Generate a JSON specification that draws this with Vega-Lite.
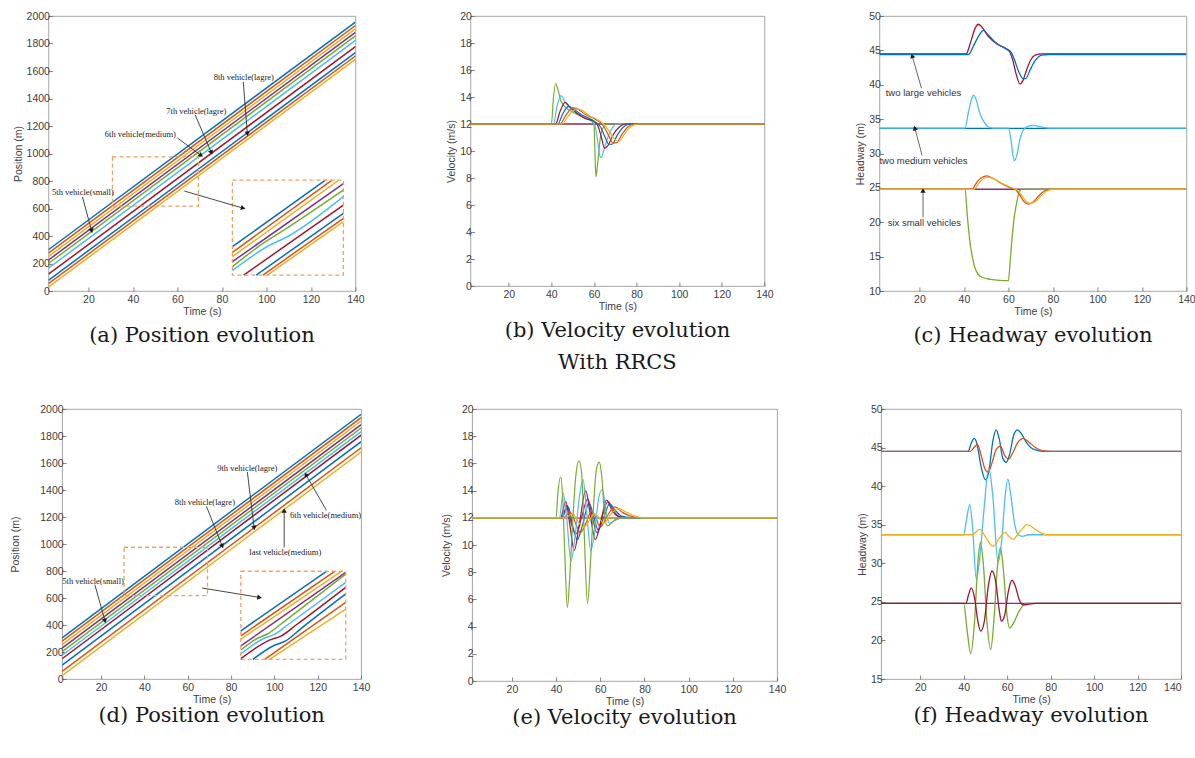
{
"$schema":"https://vega.github.io/schema/vega-lite/v6.json",
"background":"white",
"padding":{"left":10,"top":10,"right":0,"bottom":0},
"autosize":{"type":"pad"},
"datasets":{
"aL":[{"v":1,"t":2,"y":300},{"v":1,"t":140,"y":1956},{"v":2,"t":2,"y":275},{"v":2,"t":140,"y":1931},{"v":3,"t":2,"y":250},{"v":3,"t":140,"y":1906},{"v":4,"t":2,"y":225},{"v":4,"t":140,"y":1881},{"v":5,"t":2,"y":200},{"v":5,"t":140,"y":1856},{"v":6,"t":2,"y":166},{"v":6,"t":140,"y":1822},{"v":7,"t":2,"y":122},{"v":7,"t":140,"y":1778},{"v":8,"t":2,"y":78},{"v":8,"t":140,"y":1734},{"v":9,"t":2,"y":53},{"v":9,"t":140,"y":1709},{"v":10,"t":2,"y":28},{"v":10,"t":140,"y":1684}],
"aI":[{"v":1,"t":84.7,"y":322},{"v":1,"t":126.5,"y":807},{"v":2,"t":84.7,"y":281},{"v":2,"t":129.5,"y":807},{"v":3,"t":84.7,"y":250},{"v":3,"t":132.5,"y":807},{"v":4,"t":84.7,"y":213},{"v":4,"t":134.6,"y":781},{"v":5,"t":84.7,"y":177},{"v":5,"t":97,"y":330},{"v":5,"t":108,"y":445},{"v":5,"t":134.6,"y":735},{"v":6,"t":84.7,"y":148},{"v":6,"t":100,"y":320},{"v":6,"t":110,"y":400},{"v":6,"t":134.6,"y":686},{"v":7,"t":89.8,"y":116},{"v":7,"t":134.6,"y":625},{"v":8,"t":95.4,"y":116},{"v":8,"t":134.6,"y":565},{"v":9,"t":98.4,"y":116},{"v":9,"t":134.6,"y":529},{"v":10,"t":100.4,"y":116},{"v":10,"t":134.6,"y":504}],
"aR":[{"t":30.8,"y":618,"te":69.4,"ye":975},{"t":84.7,"y":116,"te":134.6,"ye":807}],
"aT":[{"t":17.5,"y":720,"txt":"5th vehicle(small)"},{"t":43.3,"y":1142,"txt":"6th vehicle(medium)"},{"t":68.5,"y":1309,"txt":"7th vehicle(lagre)"},{"t":89.8,"y":1556,"txt":"8th vehicle(lagre)"}],
"aA":[{"id":1,"t":21.3,"y":444,"t0":17.3,"y0":684},{"id":2,"t":70.3,"y":989,"t0":60,"y0":1113},{"id":3,"t":75.1,"y":1011,"t0":68,"y0":1280},{"id":4,"t":91.4,"y":1149,"t0":89.6,"y0":1520},{"id":5,"t":89.2,"y":604,"t0":63.1,"y0":727}],
"dL":[{"v":1,"t":2,"y":305},{"v":1,"t":140,"y":1961},{"v":2,"t":2,"y":280},{"v":2,"t":140,"y":1936},{"v":3,"t":2,"y":255},{"v":3,"t":140,"y":1911},{"v":4,"t":2,"y":228},{"v":4,"t":140,"y":1884},{"v":5,"t":2,"y":203},{"v":5,"t":140,"y":1859},{"v":6,"t":2,"y":176},{"v":6,"t":140,"y":1832},{"v":7,"t":2,"y":150},{"v":7,"t":140,"y":1806},{"v":8,"t":2,"y":102},{"v":8,"t":140,"y":1758},{"v":9,"t":2,"y":57},{"v":9,"t":140,"y":1713},{"v":10,"t":2,"y":25},{"v":10,"t":140,"y":1681}],
"dI":[{"v":1,"t":84.5,"y":357},{"v":1,"t":124,"y":798},{"v":2,"t":84.5,"y":320},{"v":2,"t":127.8,"y":798},{"v":3,"t":84.5,"y":295},{"v":3,"t":130.9,"y":798},{"v":4,"t":84.5,"y":245},{"v":4,"t":132.9,"y":790},{"v":5,"t":84.5,"y":215},{"v":5,"t":92,"y":300},{"v":5,"t":97,"y":335},{"v":5,"t":104,"y":420},{"v":5,"t":132.9,"y":778},{"v":6,"t":84.5,"y":185},{"v":6,"t":95,"y":300},{"v":6,"t":100,"y":330},{"v":6,"t":106,"y":400},{"v":6,"t":132.9,"y":716},{"v":7,"t":84.5,"y":151},{"v":7,"t":98,"y":290},{"v":7,"t":103,"y":318},{"v":7,"t":110,"y":400},{"v":7,"t":132.9,"y":679},{"v":8,"t":90.1,"y":146},{"v":8,"t":100,"y":250},{"v":8,"t":105,"y":280},{"v":8,"t":112,"y":370},{"v":8,"t":132.9,"y":630},{"v":9,"t":95.5,"y":146},{"v":9,"t":132.9,"y":567},{"v":10,"t":97.8,"y":146},{"v":10,"t":132.9,"y":518}],
"dR":[{"t":30.6,"y":617,"te":69.1,"ye":976},{"t":84.5,"y":146,"te":132.9,"ye":798}],
"dT":[{"t":16.3,"y":729,"txt":"5th vehicle(small)"},{"t":67.9,"y":1311,"txt":"8th vehicle(lagre)"},{"t":87.5,"y":1566,"txt":"9th vehicle(lagre)"},{"t":123.6,"y":1212,"txt":"6th vehicle(medium)"},{"t":105,"y":939,"txt":"last vehicle(medium)"}],
"dA":[{"id":1,"t":21.7,"y":436,"t0":17.1,"y0":699},{"id":2,"t":75.8,"y":989,"t0":68.6,"y0":1279},{"id":3,"t":90.6,"y":1125,"t0":87.5,"y0":1534},{"id":4,"t":114.7,"y":1509,"t0":124,"y0":1249},{"id":5,"t":104.5,"y":1242,"t0":104.5,"y0":976},{"id":6,"t":92.8,"y":605,"t0":66.6,"y0":674}],
"bL":[{"v":1,"t":2,"y":12},{"v":1,"t":140,"y":12},{"v":2,"t":2,"y":12},{"v":2,"t":140,"y":12},{"v":3,"t":2,"y":12},{"v":3,"t":140,"y":12},{"v":4,"t":2,"y":12},{"v":4,"t":140,"y":12},
{"v":5,"t":2,"y":12},{"v":5,"t":40,"y":12},{"v":5,"t":41,"y":14},{"v":5,"t":42,"y":15},{"v":5,"t":43,"y":14.6},{"v":5,"t":44.5,"y":13.7},{"v":5,"t":47,"y":13.2},{"v":5,"t":51,"y":12.8},{"v":5,"t":55,"y":12.5},{"v":5,"t":59,"y":12.2},{"v":5,"t":60,"y":12},{"v":5,"t":60.4,"y":10.2},{"v":5,"t":60.9,"y":8.1},{"v":5,"t":61.8,"y":9.2},{"v":5,"t":63,"y":11},{"v":5,"t":64.5,"y":11.8},{"v":5,"t":66,"y":12},{"v":5,"t":140,"y":12},
{"v":6,"t":2,"y":12},{"v":6,"t":41,"y":12},{"v":6,"t":42.5,"y":13.2},{"v":6,"t":44.5,"y":14.1},{"v":6,"t":46.5,"y":13.6},{"v":6,"t":50,"y":13},{"v":6,"t":54,"y":12.6},{"v":6,"t":58,"y":12.3},{"v":6,"t":60,"y":12.1},{"v":6,"t":61.5,"y":11},{"v":6,"t":62.5,"y":9.8},{"v":6,"t":63.4,"y":9.5},{"v":6,"t":64.5,"y":10},{"v":6,"t":66.5,"y":11},{"v":6,"t":69,"y":11.8},{"v":6,"t":71,"y":12},{"v":6,"t":140,"y":12},
{"v":7,"t":2,"y":12},{"v":7,"t":42,"y":12},{"v":7,"t":44,"y":12.9},{"v":7,"t":46.5,"y":13.6},{"v":7,"t":48.5,"y":13.3},{"v":7,"t":52,"y":12.8},{"v":7,"t":56,"y":12.4},{"v":7,"t":60,"y":12.2},{"v":7,"t":62,"y":11.8},{"v":7,"t":63.5,"y":11},{"v":7,"t":65,"y":10.2},{"v":7,"t":66.5,"y":10.4},{"v":7,"t":69,"y":11.2},{"v":7,"t":72,"y":11.8},{"v":7,"t":75,"y":12},{"v":7,"t":140,"y":12},
{"v":8,"t":2,"y":12},{"v":8,"t":43,"y":12},{"v":8,"t":45.5,"y":12.8},{"v":8,"t":48,"y":13.3},{"v":8,"t":50.5,"y":13.1},{"v":8,"t":54,"y":12.7},{"v":8,"t":58,"y":12.4},{"v":8,"t":61,"y":12.1},{"v":8,"t":63,"y":11.8},{"v":8,"t":65,"y":11.1},{"v":8,"t":67,"y":10.5},{"v":8,"t":68.5,"y":10.5},{"v":8,"t":71,"y":11.2},{"v":8,"t":74,"y":11.8},{"v":8,"t":77,"y":12},{"v":8,"t":140,"y":12},
{"v":9,"t":2,"y":12},{"v":9,"t":44,"y":12},{"v":9,"t":47,"y":12.7},{"v":9,"t":50,"y":13.2},{"v":9,"t":52.5,"y":13.1},{"v":9,"t":56,"y":12.7},{"v":9,"t":60,"y":12.4},{"v":9,"t":63,"y":12.1},{"v":9,"t":65,"y":11.7},{"v":9,"t":67,"y":11.1},{"v":9,"t":69,"y":10.6},{"v":9,"t":70.5,"y":10.6},{"v":9,"t":73,"y":11.2},{"v":9,"t":76,"y":11.8},{"v":9,"t":79,"y":12},{"v":9,"t":140,"y":12},
{"v":10,"t":2,"y":12},{"v":10,"t":45,"y":12},{"v":10,"t":48,"y":12.6},{"v":10,"t":52,"y":13.1},{"v":10,"t":54.5,"y":13},{"v":10,"t":58,"y":12.6},{"v":10,"t":62,"y":12.3},{"v":10,"t":64.5,"y":12},{"v":10,"t":67,"y":11.5},{"v":10,"t":69.5,"y":10.9},{"v":10,"t":71.5,"y":10.7},{"v":10,"t":74,"y":11.2},{"v":10,"t":77,"y":11.8},{"v":10,"t":81,"y":12},{"v":10,"t":140,"y":12}],
"cL":[{"v":7,"t":2,"y":44.5},{"v":7,"t":41,"y":44.5},{"v":7,"t":43,"y":46.2},{"v":7,"t":45,"y":48.2},{"v":7,"t":46.5,"y":48.8},{"v":7,"t":48,"y":48.4},{"v":7,"t":51,"y":47},{"v":7,"t":55,"y":45.9},{"v":7,"t":59,"y":45.2},{"v":7,"t":60.5,"y":44.8},{"v":7,"t":62,"y":43.5},{"v":7,"t":63.5,"y":41.5},{"v":7,"t":65.2,"y":40.1},{"v":7,"t":66.5,"y":40.6},{"v":7,"t":68,"y":42},{"v":7,"t":70,"y":43.6},{"v":7,"t":72,"y":44.3},{"v":7,"t":75,"y":44.5},{"v":7,"t":140,"y":44.5},
{"v":8,"t":2,"y":44.4},{"v":8,"t":42,"y":44.4},{"v":8,"t":44.5,"y":45.8},{"v":8,"t":47,"y":47.3},{"v":8,"t":48.7,"y":47.9},{"v":8,"t":50.5,"y":47.4},{"v":8,"t":54,"y":46.2},{"v":8,"t":58,"y":45.4},{"v":8,"t":61,"y":44.8},{"v":8,"t":62.5,"y":43.8},{"v":8,"t":64.5,"y":42},{"v":8,"t":66.5,"y":40.9},{"v":8,"t":67.8,"y":40.9},{"v":8,"t":69.5,"y":42},{"v":8,"t":72,"y":43.5},{"v":8,"t":75,"y":44.3},{"v":8,"t":78,"y":44.4},{"v":8,"t":140,"y":44.4},
{"v":1,"t":2,"y":33.65},{"v":1,"t":140,"y":33.65},
{"v":6,"t":2,"y":33.7},{"v":6,"t":40.5,"y":33.7},{"v":6,"t":42,"y":36},{"v":6,"t":43.5,"y":38},{"v":6,"t":44.3,"y":38.5},{"v":6,"t":45.5,"y":37.8},{"v":6,"t":47,"y":36},{"v":6,"t":49,"y":34.6},{"v":6,"t":51,"y":33.9},{"v":6,"t":53,"y":33.7},{"v":6,"t":60,"y":33.7},{"v":6,"t":61,"y":32.3},{"v":6,"t":62,"y":29.8},{"v":6,"t":62.7,"y":28.95},{"v":6,"t":63.8,"y":29.8},{"v":6,"t":65,"y":31.8},{"v":6,"t":66.5,"y":33.3},{"v":6,"t":68.5,"y":33.9},{"v":6,"t":71.5,"y":34.1},{"v":6,"t":74,"y":33.9},{"v":6,"t":78,"y":33.7},{"v":6,"t":140,"y":33.7},
{"v":4,"t":2,"y":24.8},{"v":4,"t":140,"y":24.8},
{"v":5,"t":2,"y":24.8},{"v":5,"t":40.5,"y":24.8},{"v":5,"t":41.5,"y":21},{"v":5,"t":42.7,"y":17.1},{"v":5,"t":44,"y":14.6},{"v":5,"t":45,"y":13.3},{"v":5,"t":46.5,"y":12.4},{"v":5,"t":48,"y":12},{"v":5,"t":52,"y":11.7},{"v":5,"t":56,"y":11.55},{"v":5,"t":60,"y":11.5},{"v":5,"t":60.7,"y":14},{"v":5,"t":61.5,"y":17.2},{"v":5,"t":62.5,"y":20.5},{"v":5,"t":63.8,"y":23},{"v":5,"t":65,"y":24.5},{"v":5,"t":66,"y":24.8},{"v":5,"t":140,"y":24.8},
{"v":2,"t":2,"y":24.8},{"v":2,"t":43.5,"y":24.8},{"v":2,"t":46,"y":25.9},{"v":2,"t":48,"y":26.5},{"v":2,"t":50.2,"y":26.75},{"v":2,"t":53,"y":26.4},{"v":2,"t":57,"y":25.6},{"v":2,"t":61,"y":25},{"v":2,"t":63,"y":24.8},{"v":2,"t":65,"y":24},{"v":2,"t":67,"y":23},{"v":2,"t":69,"y":22.65},{"v":2,"t":71,"y":22.9},{"v":2,"t":73.5,"y":23.8},{"v":2,"t":76,"y":24.5},{"v":2,"t":79,"y":24.8},{"v":2,"t":140,"y":24.8},
{"v":3,"t":2,"y":24.8},{"v":3,"t":44.5,"y":24.8},{"v":3,"t":47,"y":25.8},{"v":3,"t":49,"y":26.4},{"v":3,"t":51,"y":26.55},{"v":3,"t":54,"y":26.2},{"v":3,"t":58,"y":25.5},{"v":3,"t":62,"y":24.95},{"v":3,"t":64,"y":24.7},{"v":3,"t":66,"y":23.9},{"v":3,"t":68,"y":23},{"v":3,"t":70,"y":22.75},{"v":3,"t":72,"y":23},{"v":3,"t":74.5,"y":23.8},{"v":3,"t":77,"y":24.5},{"v":3,"t":80,"y":24.8},{"v":3,"t":140,"y":24.8}],
"cT":[{"t":21.8,"y":38.8,"txt":"two large vehicles"},{"t":21.8,"y":28.9,"txt":"two medium vehicles"},{"t":22.2,"y":19.85,"txt":"six small vehicles"}],
"cA":[{"id":1,"t":16.8,"y":44.1,"t0":20.9,"y0":39.5},{"id":2,"t":18.0,"y":33.6,"t0":21.2,"y0":29.7},{"id":3,"t":21.6,"y":24.5,"t0":21.6,"y0":20.7}],
"eL":[{"v":1,"t":2,"y":12},{"v":1,"t":140,"y":12},{"v":2,"t":2,"y":12},{"v":2,"t":140,"y":12},{"v":3,"t":2,"y":12},{"v":3,"t":140,"y":12},
{"v":4,"t":2,"y":12},{"v":4,"t":42.5,"y":12},{"v":4,"t":45,"y":12.9},{"v":4,"t":47,"y":11.5},{"v":4,"t":49,"y":10.8},{"v":4,"t":51.5,"y":12},{"v":4,"t":54.3,"y":13.4},{"v":4,"t":56.5,"y":12},{"v":4,"t":58.5,"y":10.9},{"v":4,"t":61,"y":12.2},{"v":4,"t":63.5,"y":13.2},{"v":4,"t":66.5,"y":12.4},{"v":4,"t":70,"y":12},{"v":4,"t":140,"y":12},
{"v":8,"t":2,"y":12},{"v":8,"t":42.5,"y":12},{"v":8,"t":45.5,"y":12.8},{"v":8,"t":47.5,"y":11.4},{"v":8,"t":49.6,"y":10.4},{"v":8,"t":52,"y":11.5},{"v":8,"t":54.9,"y":13.1},{"v":8,"t":57,"y":12.1},{"v":8,"t":59.1,"y":11.1},{"v":8,"t":61.5,"y":12},{"v":8,"t":64.2,"y":13},{"v":8,"t":67,"y":12.5},{"v":8,"t":70,"y":12.1},{"v":8,"t":75,"y":12},{"v":8,"t":140,"y":12},
{"v":7,"t":2,"y":12},{"v":7,"t":42,"y":12},{"v":7,"t":44.4,"y":13.2},{"v":7,"t":46.2,"y":11.5},{"v":7,"t":48.2,"y":9.6},{"v":7,"t":50.5,"y":11.5},{"v":7,"t":53.4,"y":14},{"v":7,"t":55.5,"y":12.2},{"v":7,"t":57.7,"y":10.4},{"v":7,"t":60,"y":11.5},{"v":7,"t":62.8,"y":13.3},{"v":7,"t":65.5,"y":12.5},{"v":7,"t":68,"y":12.1},{"v":7,"t":72,"y":12},{"v":7,"t":140,"y":12},
{"v":9,"t":2,"y":12},{"v":9,"t":43,"y":12},{"v":9,"t":46.5,"y":12.4},{"v":9,"t":48.8,"y":11.6},{"v":9,"t":51,"y":10.9},{"v":9,"t":53.5,"y":11.6},{"v":9,"t":56,"y":12.5},{"v":9,"t":58,"y":12},{"v":9,"t":60,"y":11.3},{"v":9,"t":63,"y":12.1},{"v":9,"t":66.5,"y":12.8},{"v":9,"t":70,"y":12.4},{"v":9,"t":74,"y":12.1},{"v":9,"t":78,"y":12},{"v":9,"t":140,"y":12},
{"v":6,"t":2,"y":12},{"v":6,"t":41.5,"y":12},{"v":6,"t":43.2,"y":13.8},{"v":6,"t":44.8,"y":12},{"v":6,"t":46.7,"y":8.8},{"v":6,"t":48.5,"y":10.5},{"v":6,"t":50.5,"y":13.5},{"v":6,"t":52.2,"y":14.8},{"v":6,"t":53.8,"y":12.5},{"v":6,"t":55.7,"y":9.6},{"v":6,"t":57.5,"y":11},{"v":6,"t":59.3,"y":13.5},{"v":6,"t":61,"y":14.1},{"v":6,"t":62.5,"y":12.5},{"v":6,"t":64.2,"y":11.6},{"v":6,"t":66.5,"y":11.8},{"v":6,"t":70,"y":12},{"v":6,"t":140,"y":12},
{"v":5,"t":2,"y":12},{"v":5,"t":40,"y":12},{"v":5,"t":40.8,"y":13.8},{"v":5,"t":42.1,"y":15},{"v":5,"t":43,"y":13.5},{"v":5,"t":44,"y":9},{"v":5,"t":45.1,"y":5.4},{"v":5,"t":46.3,"y":8},{"v":5,"t":47.8,"y":12.5},{"v":5,"t":49,"y":15.2},{"v":5,"t":50.4,"y":16.2},{"v":5,"t":51.6,"y":15.2},{"v":5,"t":52.7,"y":11},{"v":5,"t":54.2,"y":5.7},{"v":5,"t":55.5,"y":8.5},{"v":5,"t":57,"y":13},{"v":5,"t":58.2,"y":15.5},{"v":5,"t":59.5,"y":16.1},{"v":5,"t":60.7,"y":15},{"v":5,"t":61.8,"y":12.5},{"v":5,"t":63.2,"y":11.4},{"v":5,"t":65,"y":11.6},{"v":5,"t":67,"y":11.9},{"v":5,"t":69,"y":12},{"v":5,"t":140,"y":12},
{"v":10,"t":2,"y":12},{"v":10,"t":44,"y":12},{"v":10,"t":47.5,"y":12.3},{"v":10,"t":50,"y":11.7},{"v":10,"t":52.5,"y":11.3},{"v":10,"t":55,"y":11.8},{"v":10,"t":57.5,"y":12.3},{"v":10,"t":59.5,"y":12},{"v":10,"t":61.5,"y":11.6},{"v":10,"t":64.5,"y":12.2},{"v":10,"t":68,"y":12.7},{"v":10,"t":72,"y":12.4},{"v":10,"t":76,"y":12.1},{"v":10,"t":80,"y":12},{"v":10,"t":140,"y":12}],
"fL":[{"v":1,"t":2,"y":44.5},{"v":1,"t":42,"y":44.5},{"v":1,"t":43.5,"y":45.6},{"v":1,"t":44.8,"y":46.2},{"v":1,"t":46,"y":45.6},{"v":1,"t":48,"y":42.5},{"v":1,"t":50,"y":40.8},{"v":1,"t":51.5,"y":41.8},{"v":1,"t":53.5,"y":46},{"v":1,"t":54.9,"y":47.3},{"v":1,"t":56.3,"y":46.2},{"v":1,"t":58,"y":43.6},{"v":1,"t":59.6,"y":43.1},{"v":1,"t":61,"y":44},{"v":1,"t":63,"y":46.6},{"v":1,"t":64.7,"y":47.3},{"v":1,"t":66.5,"y":46.8},{"v":1,"t":69,"y":45.6},{"v":1,"t":72,"y":44.8},{"v":1,"t":77,"y":44.5},{"v":1,"t":140,"y":44.5},
{"v":2,"t":2,"y":44.5},{"v":2,"t":43,"y":44.5},{"v":2,"t":45,"y":45.1},{"v":2,"t":46.3,"y":45.4},{"v":2,"t":48,"y":44},{"v":2,"t":49.8,"y":42.2},{"v":2,"t":51.2,"y":41.8},{"v":2,"t":53,"y":43},{"v":2,"t":55,"y":44.8},{"v":2,"t":56.9,"y":45.2},{"v":2,"t":58.8,"y":44},{"v":2,"t":60.7,"y":43.5},{"v":2,"t":62.5,"y":44.3},{"v":2,"t":65,"y":45.7},{"v":2,"t":67.3,"y":46.2},{"v":2,"t":70,"y":45.7},{"v":2,"t":73,"y":45},{"v":2,"t":76,"y":44.6},{"v":2,"t":80,"y":44.5},{"v":2,"t":140,"y":44.5},
{"v":6,"t":2,"y":33.7},{"v":6,"t":40,"y":33.7},{"v":6,"t":41.2,"y":35.5},{"v":6,"t":42.8,"y":37.6},{"v":6,"t":44,"y":35},{"v":6,"t":45.8,"y":27.9},{"v":6,"t":47.5,"y":31},{"v":6,"t":49.5,"y":37.5},{"v":6,"t":51.5,"y":42.4},{"v":6,"t":53.3,"y":39},{"v":6,"t":55.8,"y":30.1},{"v":6,"t":57.5,"y":33},{"v":6,"t":59,"y":38.5},{"v":6,"t":60.3,"y":40.9},{"v":6,"t":61.8,"y":38.5},{"v":6,"t":63.5,"y":35},{"v":6,"t":65,"y":33.7},{"v":6,"t":67,"y":33.5},{"v":6,"t":70,"y":33.7},{"v":6,"t":140,"y":33.7},
{"v":3,"t":2,"y":33.7},{"v":3,"t":44,"y":33.7},{"v":3,"t":47.4,"y":34.4},{"v":3,"t":50.5,"y":33.2},{"v":3,"t":53.5,"y":32.2},{"v":3,"t":56.5,"y":33.3},{"v":3,"t":58.9,"y":34},{"v":3,"t":60.8,"y":33.5},{"v":3,"t":62.7,"y":33.1},{"v":3,"t":65.5,"y":34},{"v":3,"t":69.3,"y":35},{"v":3,"t":72.5,"y":34.5},{"v":3,"t":75,"y":34},{"v":3,"t":78,"y":33.7},{"v":3,"t":140,"y":33.7},
{"v":4,"t":2,"y":24.8},{"v":4,"t":140,"y":24.8},
{"v":5,"t":2,"y":24.8},{"v":5,"t":40,"y":24.8},{"v":5,"t":41.5,"y":21.5},{"v":5,"t":43.2,"y":18.3},{"v":5,"t":45,"y":22.5},{"v":5,"t":46.5,"y":30},{"v":5,"t":47.7,"y":32.7},{"v":5,"t":49,"y":30},{"v":5,"t":50.8,"y":22},{"v":5,"t":52.4,"y":18.8},{"v":5,"t":54,"y":23},{"v":5,"t":55.5,"y":29.5},{"v":5,"t":56.9,"y":32},{"v":5,"t":58.3,"y":29},{"v":5,"t":60,"y":23},{"v":5,"t":61.2,"y":21.6},{"v":5,"t":63,"y":22.3},{"v":5,"t":65.5,"y":23.8},{"v":5,"t":68.8,"y":24.8},{"v":5,"t":140,"y":24.8},
{"v":7,"t":2,"y":24.8},{"v":7,"t":41,"y":24.8},{"v":7,"t":42.3,"y":26},{"v":7,"t":43.5,"y":26.8},{"v":7,"t":45,"y":25.5},{"v":7,"t":46.5,"y":22.5},{"v":7,"t":47.8,"y":21.2},{"v":7,"t":49.5,"y":22.5},{"v":7,"t":51.3,"y":27},{"v":7,"t":53,"y":29},{"v":7,"t":54.8,"y":27.5},{"v":7,"t":56.3,"y":24},{"v":7,"t":57.3,"y":22.5},{"v":7,"t":58.8,"y":23.2},{"v":7,"t":60.5,"y":26.3},{"v":7,"t":62.2,"y":27.8},{"v":7,"t":63.8,"y":27},{"v":7,"t":65.5,"y":25.3},{"v":7,"t":67.3,"y":24.6},{"v":7,"t":70,"y":24.7},{"v":7,"t":73,"y":24.8},{"v":7,"t":140,"y":24.8}]
},
"vconcat":[
{"hconcat":[
{"width":307,"height":275,"title":{"text":"(a) Position evolution"},
"encoding":{"x":{"field":"t","type":"quantitative","title":"Time (s)","scale":{"domain":[2,140],"nice":false,"zero":false},"axis":{"values":[20,40,60,80,100,120,140]}},
"y":{"field":"y","type":"quantitative","title":"Position (m)","scale":{"domain":[0,2000],"nice":false},"axis":{"values":[0,200,400,600,800,1000,1200,1400,1600,1800,2000],"format":"d"}}},
"layer":[
{"data":{"name":"aL"},"mark":{"type":"line","strokeWidth":1.5,"clip":true},"encoding":{"color":{"field":"v","type":"nominal","legend":null,"scale":{"domain":[1,2,3,4,5,6,7,8,9,10],"range":["#0072BD","#D95319","#EDB120","#7E2F8E","#77AC30","#4DBEEE","#A2142F","#0072BD","#D95319","#EDB120"]}}}},
{"data":{"name":"aI"},"mark":{"type":"line","strokeWidth":1.5,"interpolate":"monotone","clip":true},"encoding":{"color":{"field":"v","type":"nominal","legend":null,"scale":{"domain":[1,2,3,4,5,6,7,8,9,10],"range":["#0072BD","#D95319","#EDB120","#7E2F8E","#77AC30","#4DBEEE","#A2142F","#0072BD","#D95319","#EDB120"]}}}},
{"data":{"name":"aR"},"mark":{"type":"rect","fillOpacity":0,"stroke":"#F0A060","strokeWidth":1.3,"strokeDash":[4,3]},"encoding":{"x2":{"field":"te"},"y2":{"field":"ye"}}},
{"data":{"name":"aT"},"mark":{"type":"text","font":"Liberation Serif","fontSize":8.5,"color":"#222"},"encoding":{"text":{"field":"txt"}}},
{"data":{"name":"aA"},"mark":{"type":"rule","color":"#333","strokeWidth":0.9},"encoding":{"x2":{"field":"t0"},"y2":{"field":"y0"}}},
{"data":{"name":"aA"},"transform":[{"filter":"datum.id==1"}],"mark":{"type":"point","shape":"triangle","filled":true,"size":28,"angle":165,"color":"#1a1a1a","opacity":1}},
{"data":{"name":"aA"},"transform":[{"filter":"datum.id==2"}],"mark":{"type":"point","shape":"triangle","filled":true,"size":28,"angle":127,"color":"#1a1a1a","opacity":1}},
{"data":{"name":"aA"},"transform":[{"filter":"datum.id==3"}],"mark":{"type":"point","shape":"triangle","filled":true,"size":28,"angle":157,"color":"#1a1a1a","opacity":1}},
{"data":{"name":"aA"},"transform":[{"filter":"datum.id==4"}],"mark":{"type":"point","shape":"triangle","filled":true,"size":28,"angle":176,"color":"#1a1a1a","opacity":1}},
{"data":{"name":"aA"},"transform":[{"filter":"datum.id==5"}],"mark":{"type":"point","shape":"triangle","filled":true,"size":28,"angle":106,"color":"#1a1a1a","opacity":1}}
]},
{"width":294,"height":270,"title":{"text":["(b) Velocity evolution","With RRCS"],"lineHeight":32},
"encoding":{"x":{"field":"t","type":"quantitative","title":"Time (s)","scale":{"domain":[2,140],"nice":false,"zero":false},"axis":{"values":[20,40,60,80,100,120,140]}},
"y":{"field":"y","type":"quantitative","title":"Velocity (m/s)","scale":{"domain":[0,20],"nice":false},"axis":{"values":[0,2,4,6,8,10,12,14,16,18,20]}}},
"layer":[
{"data":{"name":"bL"},"mark":{"type":"line","strokeWidth":1.2,"interpolate":"monotone","clip":true},"encoding":{"color":{"field":"v","type":"nominal","legend":null,"scale":{"domain":[1,2,3,4,5,6,7,8,9,10],"range":["#0072BD","#D95319","#EDB120","#7E2F8E","#77AC30","#4DBEEE","#A2142F","#0072BD","#D95319","#EDB120"]}}}}
]},
{"width":307,"height":275,"title":{"text":"(c) Headway evolution"},
"encoding":{"x":{"field":"t","type":"quantitative","title":"Time (s)","scale":{"domain":[2,140],"nice":false,"zero":false},"axis":{"values":[20,40,60,80,100,120,140]}},
"y":{"field":"y","type":"quantitative","title":"Headway (m)","scale":{"domain":[10,50],"nice":false,"zero":false},"axis":{"values":[10,15,20,25,30,35,40,45,50]}}},
"layer":[
{"data":{"name":"cL"},"mark":{"type":"line","strokeWidth":1.3,"interpolate":"monotone","clip":true},"encoding":{"color":{"field":"v","type":"nominal","legend":null,"scale":{"domain":[1,2,3,4,5,6,7,8,9,10],"range":["#0072BD","#D95319","#EDB120","#7E2F8E","#77AC30","#4DBEEE","#A2142F","#0072BD","#D95319","#EDB120"]}}}},
{"data":{"name":"cT"},"mark":{"type":"text","font":"Liberation Sans","fontSize":9.5,"color":"#333"},"encoding":{"text":{"field":"txt"}}},
{"data":{"name":"cA"},"mark":{"type":"rule","color":"#555","strokeWidth":0.9},"encoding":{"x2":{"field":"t0"},"y2":{"field":"y0"}}},
{"data":{"name":"cA"},"transform":[{"filter":"datum.id==1"}],"mark":{"type":"point","shape":"triangle","filled":true,"size":28,"angle":344,"color":"#1a1a1a","opacity":1}},
{"data":{"name":"cA"},"transform":[{"filter":"datum.id==2"}],"mark":{"type":"point","shape":"triangle","filled":true,"size":28,"angle":345,"color":"#1a1a1a","opacity":1}},
{"data":{"name":"cA"},"transform":[{"filter":"datum.id==3"}],"mark":{"type":"point","shape":"triangle","filled":true,"size":28,"angle":0,"color":"#1a1a1a","opacity":1}}
]}
],"spacing":80},
{"hconcat":[
{"width":299,"height":270,"title":{"text":"(d) Position evolution","offset":0},
"encoding":{"x":{"field":"t","type":"quantitative","title":"Time (s)","scale":{"domain":[2,140],"nice":false,"zero":false},"axis":{"values":[20,40,60,80,100,120,140]}},
"y":{"field":"y","type":"quantitative","title":"Position (m)","scale":{"domain":[0,2000],"nice":false},"axis":{"values":[0,200,400,600,800,1000,1200,1400,1600,1800,2000],"format":"d","titlePadding":19}}},
"layer":[
{"data":{"name":"dL"},"mark":{"type":"line","strokeWidth":1.5,"clip":true},"encoding":{"color":{"field":"v","type":"nominal","legend":null,"scale":{"domain":[1,2,3,4,5,6,7,8,9,10],"range":["#0072BD","#D95319","#EDB120","#7E2F8E","#77AC30","#4DBEEE","#A2142F","#0072BD","#D95319","#EDB120"]}}}},
{"data":{"name":"dI"},"mark":{"type":"line","strokeWidth":1.5,"interpolate":"monotone","clip":true},"encoding":{"color":{"field":"v","type":"nominal","legend":null,"scale":{"domain":[1,2,3,4,5,6,7,8,9,10],"range":["#0072BD","#D95319","#EDB120","#7E2F8E","#77AC30","#4DBEEE","#A2142F","#0072BD","#D95319","#EDB120"]}}}},
{"data":{"name":"dR"},"mark":{"type":"rect","fillOpacity":0,"stroke":"#F0A060","strokeWidth":1.3,"strokeDash":[4,3]},"encoding":{"x2":{"field":"te"},"y2":{"field":"ye"}}},
{"data":{"name":"dT"},"mark":{"type":"text","font":"Liberation Serif","fontSize":8.5,"color":"#222"},"encoding":{"text":{"field":"txt"}}},
{"data":{"name":"dA"},"mark":{"type":"rule","color":"#333","strokeWidth":0.9},"encoding":{"x2":{"field":"t0"},"y2":{"field":"y0"}}},
{"data":{"name":"dA"},"transform":[{"filter":"datum.id==1"}],"mark":{"type":"point","shape":"triangle","filled":true,"size":28,"angle":164,"color":"#1a1a1a","opacity":1}},
{"data":{"name":"dA"},"transform":[{"filter":"datum.id==2"}],"mark":{"type":"point","shape":"triangle","filled":true,"size":28,"angle":158,"color":"#1a1a1a","opacity":1}},
{"data":{"name":"dA"},"transform":[{"filter":"datum.id==3"}],"mark":{"type":"point","shape":"triangle","filled":true,"size":28,"angle":173,"color":"#1a1a1a","opacity":1}},
{"data":{"name":"dA"},"transform":[{"filter":"datum.id==4"}],"mark":{"type":"point","shape":"triangle","filled":true,"size":28,"angle":330,"color":"#1a1a1a","opacity":1}},
{"data":{"name":"dA"},"transform":[{"filter":"datum.id==5"}],"mark":{"type":"point","shape":"triangle","filled":true,"size":28,"angle":0,"color":"#1a1a1a","opacity":1}},
{"data":{"name":"dA"},"transform":[{"filter":"datum.id==6"}],"mark":{"type":"point","shape":"triangle","filled":true,"size":28,"angle":99,"color":"#1a1a1a","opacity":1}}
]},
{"width":305,"height":272,"title":{"text":"(e) Velocity evolution","offset":0},
"encoding":{"x":{"field":"t","type":"quantitative","title":"Time (s)","scale":{"domain":[2,140],"nice":false,"zero":false},"axis":{"values":[20,40,60,80,100,120,140]}},
"y":{"field":"y","type":"quantitative","title":"Velocity (m/s)","scale":{"domain":[0,20],"nice":false},"axis":{"values":[0,2,4,6,8,10,12,14,16,18,20],"titlePadding":10}}},
"layer":[
{"data":{"name":"eL"},"mark":{"type":"line","strokeWidth":1.2,"interpolate":"monotone","clip":true},"encoding":{"color":{"field":"v","type":"nominal","legend":null,"scale":{"domain":[1,2,3,4,5,6,7,8,9,10],"range":["#0072BD","#D95319","#EDB120","#7E2F8E","#77AC30","#4DBEEE","#A2142F","#0072BD","#D95319","#EDB120"]}}}}
]},
{"width":300,"height":270,"title":{"text":"(f) Headway evolution","offset":0},
"encoding":{"x":{"field":"t","type":"quantitative","title":"Time (s)","scale":{"domain":[2,140],"nice":false,"zero":false},"axis":{"values":[20,40,60,80,100,120,140],"labelFlush":true}},
"y":{"field":"y","type":"quantitative","title":"Headway (m)","scale":{"domain":[15,50],"nice":false,"zero":false},"axis":{"values":[15,20,25,30,35,40,45,50]}}},
"layer":[
{"data":{"name":"fL"},"mark":{"type":"line","strokeWidth":1.3,"interpolate":"monotone","clip":true},"encoding":{"color":{"field":"v","type":"nominal","legend":null,"scale":{"domain":[1,2,3,4,5,6,7,8,9,10],"range":["#0072BD","#D95319","#EDB120","#7E2F8E","#77AC30","#4DBEEE","#A2142F","#0072BD","#D95319","#EDB120"]}}}}
]}
],"spacing":69}
],
"spacing":29,
"center":true,
"config":{
"view":{"stroke":"#8f8f8f","strokeWidth":0.8},
"axis":{"grid":false,"domain":false,"ticks":true,"tickSize":-4,"tickColor":"#666","tickWidth":0.8,"labelFont":"Liberation Sans","labelFontSize":10.5,"labelColor":"#404040","labelPadding":7,"titleFont":"Liberation Sans","titleFontSize":10.5,"titleFontWeight":"normal","titleColor":"#404040","titlePadding":3},
"axisX":{"labelFlush":false,"titlePadding":2},
"axisY":{"labelPadding":3},
"title":{"orient":"bottom","font":"DejaVu Serif","fontSize":21,"fontWeight":"normal","color":"#1a1a1a","offset":8,"anchor":"middle","lineHeight":30}
}
}
